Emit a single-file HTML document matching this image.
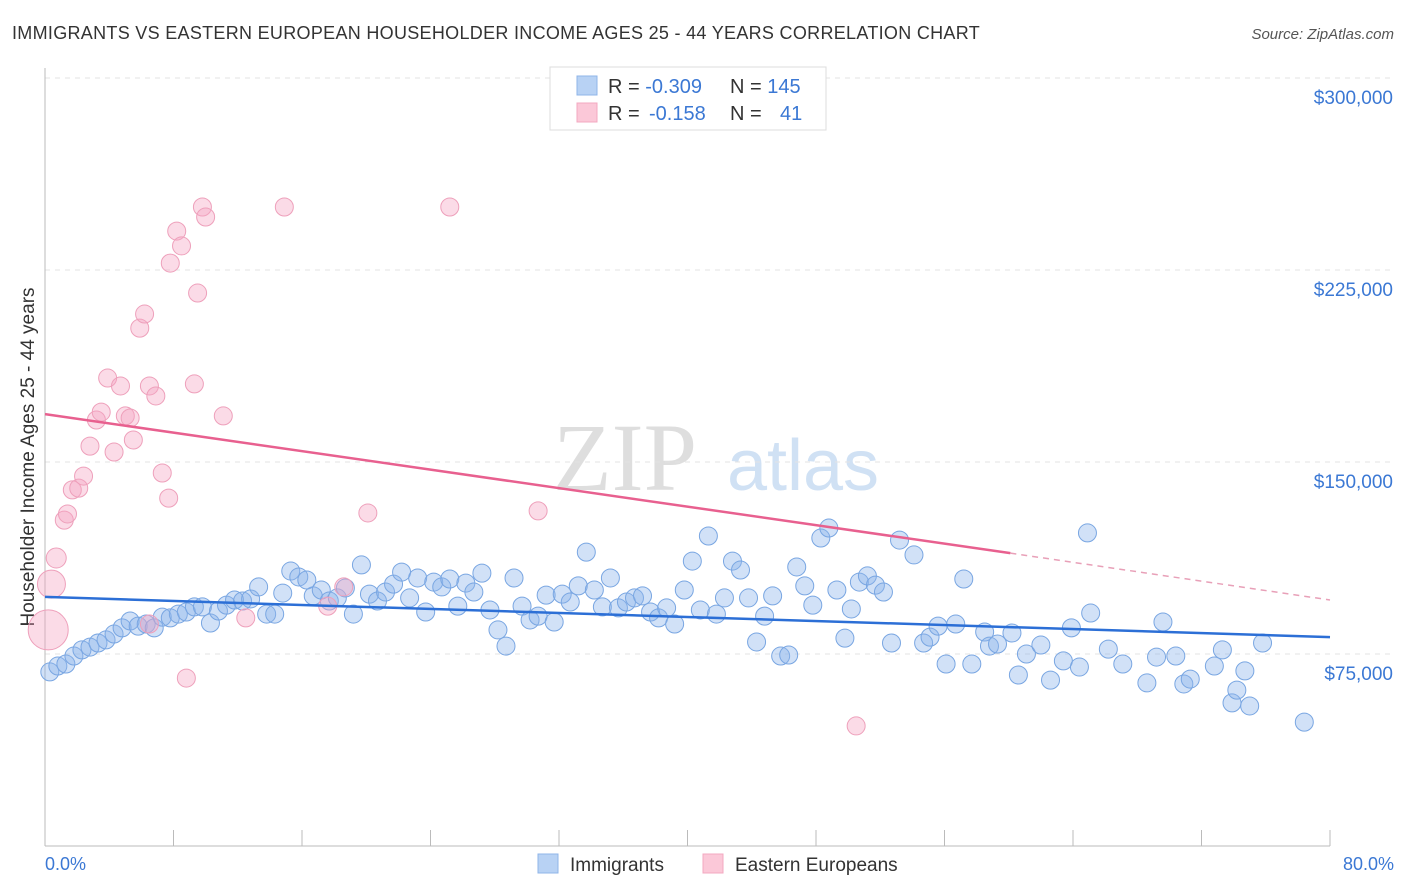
<!DOCTYPE html>
<html><head><meta charset="utf-8"><style>
body{margin:0;background:#fff;font-family:"Liberation Sans",sans-serif;}
#wrap{position:relative;width:1406px;height:892px;overflow:hidden;}
</style></head><body>
<div id="wrap">
<svg id="svg" width="1406" height="892" xmlns="http://www.w3.org/2000/svg">
<text x="12" y="39" font-size="18" fill="#333" letter-spacing="0.3">IMMIGRANTS VS EASTERN EUROPEAN HOUSEHOLDER INCOME AGES 25 - 44 YEARS CORRELATION CHART</text>
<text x="1394" y="39" font-size="15" fill="#555" font-style="italic" text-anchor="end">Source: ZipAtlas.com</text>
<text x="625" y="490" font-size="96" fill="#dedede" font-family="Liberation Serif" text-anchor="middle">ZIP</text>
<text x="803" y="490" font-size="72" fill="#d0e1f4" text-anchor="middle">atlas</text>
<text transform="translate(34,457) rotate(-90)" font-size="19" fill="#333" text-anchor="middle">Householder Income Ages 25 - 44 years</text>
<g id="grid"></g><g id="xt"></g><g id="pts"></g><g id="lines"></g>
<text x="45" y="870" font-size="18" fill="#3b78d4">0.0%</text>
<text x="1394" y="870" font-size="18" fill="#3b78d4" text-anchor="end">80.0%</text>
<g>
<rect x="550" y="67" width="276" height="63" fill="#fff" stroke="#ddd"/>
<rect x="577" y="76" width="20" height="19" fill="#b8d2f4" stroke="#8fb5e8"/>
<rect x="577" y="103" width="20" height="19" fill="#fbc8d8" stroke="#f3a8c0"/>
<text x="608" y="93" font-size="20" fill="#333">R = <tspan fill="#3b78d4">-0.309</tspan></text>
<text x="730" y="93" font-size="20" fill="#333">N = <tspan fill="#3b78d4">145</tspan></text>
<text x="608" y="120" font-size="20" fill="#333">R = <tspan fill="#3b78d4" x="649">-0.158</tspan></text>
<text x="730" y="120" font-size="20" fill="#333">N = <tspan fill="#3b78d4" x="780">41</tspan></text>
</g>
<g>
<rect x="538" y="854" width="20" height="19" fill="#b8d2f4" stroke="#8fb5e8"/>
<text x="570" y="871" font-size="19" fill="#333">Immigrants</text>
<rect x="703" y="854" width="20" height="19" fill="#fbc8d8" stroke="#f3a8c0"/>
<text x="735" y="871" font-size="19" fill="#333">Eastern Europeans</text>
</g>
</svg>
</div>
<script>
const yTicks=[75000,150000,225000,300000];
const yTickLabels=["$75,000","$150,000","$225,000","$300,000"];
const blueX=[0.3,0.8,1.3,1.8,2.3,2.8,3.3,3.8,4.3,4.8,5.3,5.8,6.3,6.8,7.3,7.8,8.3,8.8,9.3,9.8,10.3,10.8,11.3,11.8,12.3,12.8,13.3,13.8,14.3,14.8,15.3,15.8,16.3,16.7,17.2,17.7,18.2,18.7,19.2,19.7,20.2,20.7,21.2,21.7,22.2,22.7,23.2,23.7,24.2,24.7,25.2,25.7,26.2,26.7,27.2,27.7,28.2,28.7,29.2,29.7,30.2,30.7,31.2,31.7,32.2,32.7,33.2,33.7,34.2,34.7,35.2,35.7,36.2,36.7,37.2,37.7,38.2,38.7,39.2,39.8,40.3,40.8,41.3,41.8,42.3,42.8,43.3,43.8,44.3,44.8,45.3,45.8,46.3,46.8,47.3,47.8,48.3,48.8,49.3,49.8,50.2,50.7,51.2,51.7,52.2,52.7,53.2,54.1,54.7,55.1,55.6,56.1,56.7,57.2,57.7,58.5,58.8,59.3,60.2,60.6,61.1,62.0,62.6,63.4,63.9,64.4,64.9,65.1,66.2,67.1,68.6,69.2,69.6,70.4,70.9,71.3,72.8,73.3,73.9,74.2,74.7,75.0,75.8,78.4];
const blueY=[68.0,70.3,71.1,74.2,76.6,77.7,79.3,80.5,82.8,85.2,87.9,85.9,86.7,85.2,89.4,89.1,90.6,91.4,93.4,93.4,87.1,91.8,94.1,96.1,95.7,96.5,101.2,90.6,90.6,98.8,107.4,105.1,103.9,97.7,100.0,95.7,96.9,100.8,90.6,109.8,98.4,95.7,99.2,102.3,107.0,96.9,104.7,91.4,103.1,101.2,104.3,93.7,102.7,99.2,106.6,92.2,84.4,78.1,104.7,93.7,88.3,89.8,98.0,87.5,98.4,95.3,101.6,114.8,100.0,93.4,104.7,93.0,95.3,96.9,97.7,91.4,89.1,93.0,86.7,100.0,111.3,92.2,121.1,90.6,96.9,111.3,107.8,96.9,79.7,89.8,97.7,74.2,74.6,109.0,101.6,94.1,120.3,124.2,100.0,81.2,92.6,103.1,105.5,101.9,99.2,79.3,119.5,113.7,79.3,81.6,85.9,71.1,86.7,104.3,71.1,83.6,78.1,78.9,83.2,66.8,75.0,78.5,64.8,72.3,85.2,69.9,122.3,91.0,76.9,71.1,63.7,73.8,87.5,74.2,63.3,65.2,70.3,76.6,55.9,60.9,68.4,54.7,79.3,48.4];
const pinkX=[0.2,0.4,0.7,1.2,1.4,1.7,2.1,2.4,2.8,3.2,3.5,3.9,4.3,4.7,5.0,5.3,5.5,5.9,6.2,6.5,6.9,7.3,7.7,7.8,8.2,8.5,8.8,9.3,9.5,9.8,10.0,11.1,12.5,14.9,17.6,18.6,20.1,25.2,30.7,50.5,6.5];
const pinkY=[84.4,102.3,112.5,127.3,129.7,139.1,139.8,144.5,156.2,166.4,169.5,182.8,153.9,179.7,168.0,167.2,158.6,202.3,207.8,179.7,175.8,145.7,135.9,227.7,240.2,234.4,65.6,180.5,216.0,249.6,245.7,168.0,89.1,249.6,93.7,101.2,130.1,249.6,130.9,46.9,86.7];
const pinkR=[20,14,10,9,9,9,9,9,9,9,9,9,9,9,9,9,9,9,9,9,9,9,9,9,9,9,9,9,9,9,9,9,9,9,9,9,9,9,9,9,9];
const blueLine=[[0,97.3],[80,81.6]];
const pinkLine=[[0,168.7],[60.1,114.4],[80,96.1]];
const NS="http://www.w3.org/2000/svg";
const xs=v=>45+v/80*1285;
const ys=v=>846-v/75*192;
function mk(tag,attrs,parent){const e=document.createElementNS(NS,tag);for(const k in attrs)e.setAttribute(k,attrs[k]);parent.appendChild(e);return e;}
const grid=document.getElementById('grid');
for(let i=0;i<yTicks.length;i++){const y=ys(yTicks[i]/1000);
const l=mk('line',{x1:45,x2:1394,y1:y,y2:y,stroke:'#e3e3e3','stroke-dasharray':'5,5'},grid);


const t=mk('text',{x:1393,y:y+26,'font-size':19,fill:'#3b78d4','text-anchor':'end'},grid);t.textContent=yTickLabels[i];

}
const xt=document.getElementById('xt');
const ax=mk('line',{x1:45,x2:1330,y1:846,y2:846,stroke:'#bbb'},xt);


const ay=mk('line',{x1:45,x2:45,y1:68,y2:846,stroke:'#bbb'},xt);


for(let i=0;i<=10;i++){const x=xs(i*8);const t=mk('line',{x1:x,x2:x,y1:830,y2:846,stroke:'#bbb'},xt);

}
const pts=document.getElementById('pts');
for(let i=0;i<blueX.length;i++){const c=mk('circle',{cx:xs(blueX[i]),cy:ys(blueY[i]),r:9,fill:'rgba(140,180,235,0.4)',stroke:'#79a6e2','stroke-width':1},pts);

}
for(let i=0;i<pinkX.length;i++){const c=mk('circle',{cx:xs(pinkX[i]),cy:ys(pinkY[i]),r:pinkR[i],fill:'rgba(245,165,195,0.4)',stroke:'#eea0bb','stroke-width':1},pts);

}
const lines=document.getElementById('lines');
const bl=mk('line',{x1:xs(blueLine[0][0]),y1:ys(blueLine[0][1]),x2:xs(blueLine[1][0]),y2:ys(blueLine[1][1]),stroke:'#2c6fd6','stroke-width':2.5},lines);


const pl=mk('line',{x1:xs(pinkLine[0][0]),y1:ys(pinkLine[0][1]),x2:xs(pinkLine[1][0]),y2:ys(pinkLine[1][1]),stroke:'#e8608f','stroke-width':2.5},lines);


const pd=mk('line',{x1:xs(pinkLine[1][0]),y1:ys(pinkLine[1][1]),x2:xs(pinkLine[2][0]),y2:ys(pinkLine[2][1]),stroke:'#e8a0b8','stroke-width':1.5,'stroke-dasharray':'6,5'},lines);


</script>
</body></html>
